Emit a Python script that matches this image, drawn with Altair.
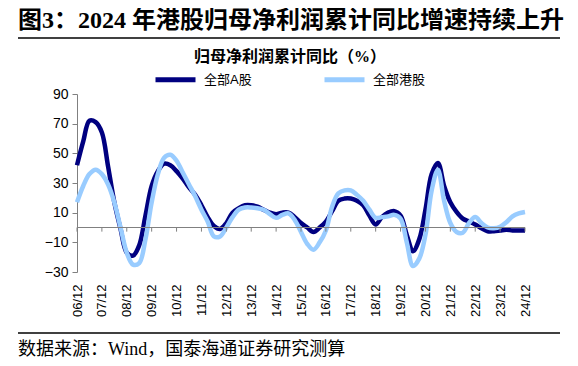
import altair as alt
import pandas as pd

# ---------------- data (quarterly, 2006Q4 .. 2024Q4) ----------------
year_labels = ["06/12", "07/12", "08/12", "09/12", "10/12", "11/12", "12/12",
               "13/12", "14/12", "15/12", "16/12", "17/12", "18/12", "19/12",
               "20/12", "21/12", "22/12", "23/12", "24/12"]

a_share = [42, 58, 72, 71, 64, 41, 17, -1, -17, -19, -12, 8, 28, 38, 43, 42,
           38, 33, 27, 22, 15, 7, 1, -1, 3, 10, 13, 15, 15, 14, 12, 10,
           9, 10, 10, 7, 3, 0, -3, 0, 4, 11, 18, 19.5, 19.5, 18, 15, 8,
           2, 7, 10, 11, 8, -5, -16, -8, 12, 36, 43.5, 28, 17, 10.5, 6, 4,
           2, -0.5, -2.5, -2.5, -2, -1.5, -2, -2, -2]

hk_share = [17, 28, 36, 39, 36, 29, 17, 0, -17, -25, -24, -8, 17, 36, 47, 49,
            45, 37, 29, 21, 12, 4, -6, -6, 0, 7, 12, 13.5, 13.5, 13, 12, 9,
            6.5, 8.5, 9.5, 5, -3, -11, -15, -10, -2, 14, 23, 25, 25, 22, 18, 12,
            6.5, 7, 7.5, 8.5, 6, -10, -26, -21, -5, 25, 39, 18, 3, -3, -3.5, 3,
            7, 3, 0, -0.5, 0.5, 3.5, 7.5, 9.5, 10.5]

series_names = ["全部A股", "全部港股"]
series_colors = ["#000080", "#99CCFF"]

title_text = "图3：2024 年港股归母净利润累计同比增速持续上升"
subtitle_text = "归母净利润累计同比（%）"
source_text = "数据来源：Wind，国泰海通证券研究测算"

y_ticks = [-30, -10, 10, 30, 50, 70, 90]

n = len(a_share)
assert n == len(hk_share) == 73
pos = [i / 4 for i in range(n)]
df = pd.DataFrame({
    "t": pos + pos,
    "v": a_share + hk_share,
    "s": [series_names[0]] * n + [series_names[1]] * n,
    "o": [0] * n + [1] * n,
})

GRAY = "#808080"
CJK = "Liberation Serif, Noto Sans CJK SC"
SANS = "Liberation Sans, Arial, Noto Sans CJK SC"

label_expr = "[" + ",".join("'%s'" % s for s in year_labels) + "][datum.value]"

x_scale = alt.Scale(domain=[0, len(year_labels) - 1], nice=False, zero=False)
y_scale = alt.Scale(domain=[-30, 90], nice=False, zero=False)

x_axis = alt.Axis(values=list(range(len(year_labels))), labelExpr=label_expr,
                  labelAngle=270, labelAlign="right", labelBaseline="middle",
                  labelOverlap=False, labelFlush=False,
                  domain=False, ticks=False, grid=False, title=None,
                  labelPadding=12, labelFontSize=13, labelFont=SANS,
                  labelColor="#000000")
y_axis = alt.Axis(values=y_ticks, domainColor=GRAY, tickColor=GRAY,
                  labelOverlap=False, labelFlush=False,
                  tickSize=5, grid=False, title=None, labelFontSize=14,
                  labelFont=SANS, labelColor="#000000", labelPadding=4)

lines = alt.Chart(df).mark_line(strokeWidth=4.5, interpolate="catmull-rom").encode(
    x=alt.X("t:Q", scale=x_scale, axis=x_axis),
    y=alt.Y("v:Q", scale=y_scale, axis=y_axis),
    color=alt.Color("s:N", scale=alt.Scale(domain=series_names, range=series_colors),
                    legend=alt.Legend(orient="none", legendX=76, legendY=-37,
                                      direction="horizontal", title=None,
                                      symbolType="stroke", symbolStrokeWidth=5,
                                      symbolSize=1600, labelFontSize=13,
                                      labelFont=SANS, labelColor="#000000",
                                      columnPadding=62, labelOffset=6)),
    order="o:Q",
    detail="s:N",
)

zero_rule = alt.Chart(pd.DataFrame({"z": [0]})).mark_rule(color=GRAY, strokeWidth=1).encode(
    y=alt.Y("z:Q", scale=y_scale, axis=y_axis)
)

zero_ticks = alt.Chart(pd.DataFrame({"t": list(range(len(year_labels)))})).mark_rule(
    color=GRAY, strokeWidth=1).encode(
    x=alt.X("t:Q", scale=x_scale, axis=x_axis),
    y=alt.YDatum(0, axis=y_axis),
    y2=alt.Y2Datum(-2.8),
)

def text_layer(txt, x, y, size, weight="normal", align="left", font=CJK):
    return alt.Chart(pd.DataFrame({"txt": [txt]})).mark_text(
        align=align, baseline="middle", fontSize=size, fontWeight=weight,
        font=font, color="#000000").encode(
        x=alt.value(x), y=alt.value(y), text="txt:N")

title = text_layer(title_text, -59, -73, 24, "bold")
subtitle = text_layer(subtitle_text, 213, -37, 16, "bold", align="center")
source = text_layer(source_text, -59, 256, 18)

title_line = alt.Chart(pd.DataFrame({"a": [0]})).mark_rule(color="#000000", strokeWidth=1.5).encode(
    x=alt.value(-59), x2=alt.value(483), y=alt.value(-56))
source_line = alt.Chart(pd.DataFrame({"a": [0]})).mark_rule(color="#000000", strokeWidth=1.5).encode(
    x=alt.value(-59), x2=alt.value(483), y=alt.value(239))

chart = alt.layer(
    lines, zero_rule, zero_ticks, title_line, title, subtitle, source_line, source
).properties(
    width=448, height=178,
    padding={"left": 69, "top": 86, "right": 45, "bottom": 92},
    autosize=alt.AutoSizeParams(type="none"),
).configure_view(stroke=None)

chart.save("out.html", embed_options={"renderer": "svg", "actions": False})
